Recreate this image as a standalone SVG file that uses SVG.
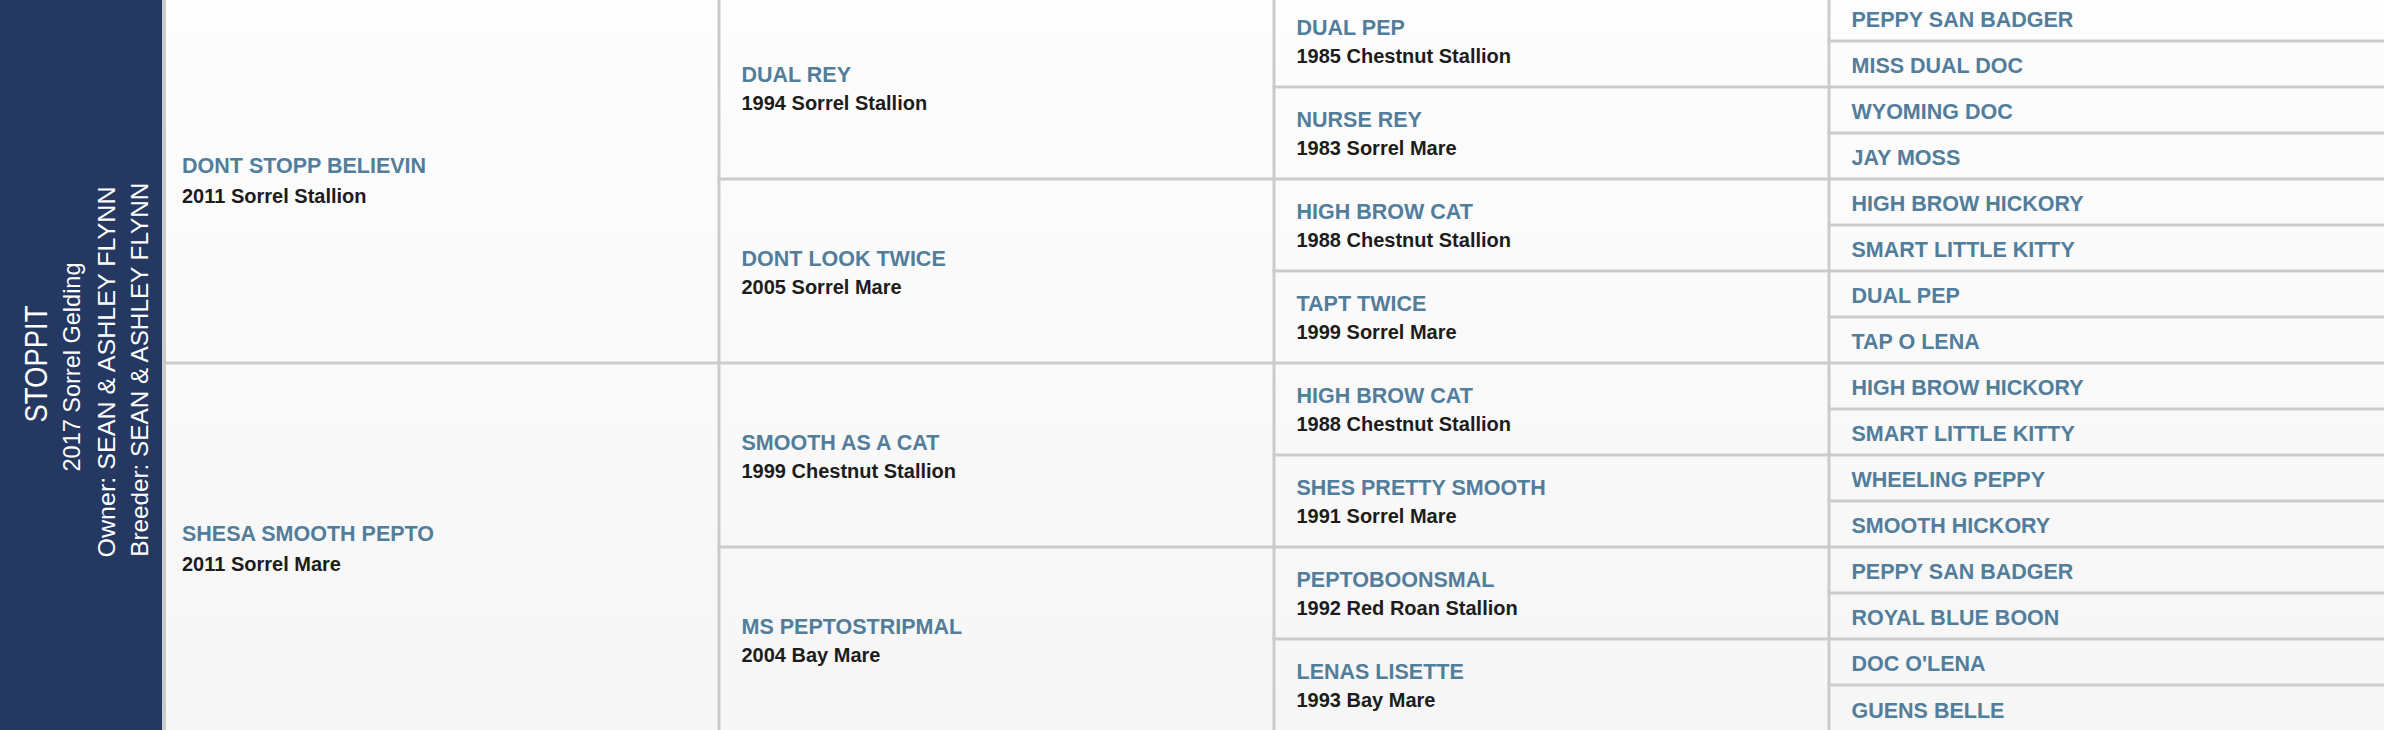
<svg xmlns="http://www.w3.org/2000/svg" width="2384" height="730" viewBox="0 0 2384 730">
<style>
.nm{font-family:"Liberation Sans",Arial,sans-serif;font-weight:700;font-size:21.5px;fill:#527d9b}
.dt{font-family:"Liberation Sans",Arial,sans-serif;font-weight:700;font-size:20px;fill:#1c1c1c}
.sb{font-family:"Liberation Sans",Arial,sans-serif;font-weight:400;fill:#ffffff;text-anchor:middle}
.ln{fill:#cbcbcb}
</style>
<defs>
<linearGradient id="bg" x1="0" y1="0" x2="0" y2="1">
<stop offset="0" stop-color="#fdfdfd"/>
<stop offset="1" stop-color="#f6f6f6"/>
</linearGradient>
</defs>
<rect x="0" y="0" width="2384" height="730" fill="url(#bg)"/>
<g id="subject">
<rect x="0" y="0" width="162" height="730" fill="#243862"/>
<text class="sb" font-size="31" textLength="117" lengthAdjust="spacingAndGlyphs" transform="translate(46.7,364) rotate(-90)">STOPPIT</text>
<text class="sb" font-size="24" textLength="209" lengthAdjust="spacingAndGlyphs" transform="translate(80,367) rotate(-90)">2017 Sorrel Gelding</text>
<text class="sb" font-size="24" textLength="371" lengthAdjust="spacingAndGlyphs" transform="translate(114.5,372) rotate(-90)">Owner: SEAN &amp; ASHLEY FLYNN</text>
<text class="sb" font-size="24" textLength="374" lengthAdjust="spacingAndGlyphs" transform="translate(147.5,369.7) rotate(-90)">Breeder: SEAN &amp; ASHLEY FLYNN</text>
</g>
<g id="grid">
<rect class="ln" x="162" y="0" width="4" height="730"/>
<rect class="ln" x="717.5" y="0" width="3" height="730"/>
<rect class="ln" x="1272.5" y="0" width="3" height="730"/>
<rect class="ln" x="1827.5" y="0" width="3" height="730"/>
<rect class="ln" x="1827.5" y="39.5" width="556.5" height="3"/>
<rect class="ln" x="1272.5" y="85.5" width="1111.5" height="3"/>
<rect class="ln" x="1827.5" y="131.5" width="556.5" height="3"/>
<rect class="ln" x="717.5" y="177.5" width="1666.5" height="3"/>
<rect class="ln" x="1827.5" y="223.5" width="556.5" height="3"/>
<rect class="ln" x="1272.5" y="269.5" width="1111.5" height="3"/>
<rect class="ln" x="1827.5" y="315.5" width="556.5" height="3"/>
<rect class="ln" x="166" y="361.5" width="2218" height="3"/>
<rect class="ln" x="1827.5" y="407.5" width="556.5" height="3"/>
<rect class="ln" x="1272.5" y="453.5" width="1111.5" height="3"/>
<rect class="ln" x="1827.5" y="499.5" width="556.5" height="3"/>
<rect class="ln" x="717.5" y="545.5" width="1666.5" height="3"/>
<rect class="ln" x="1827.5" y="591.5" width="556.5" height="3"/>
<rect class="ln" x="1272.5" y="637.5" width="1111.5" height="3"/>
<rect class="ln" x="1827.5" y="683.5" width="556.5" height="3"/>
</g>
<g id="sire"><text class="nm" x="182" y="173.3">DONT STOPP BELIEVIN</text><text class="dt" x="182" y="202.7">2011 Sorrel Stallion</text></g>
<g id="dam"><text class="nm" x="182" y="541.3">SHESA SMOOTH PEPTO</text><text class="dt" x="182" y="570.7">2011 Sorrel Mare</text></g>
<g id="ss"><text class="nm" x="741.5" y="81.7">DUAL REY</text><text class="dt" x="741.5" y="110">1994 Sorrel Stallion</text></g>
<g id="sd"><text class="nm" x="741.5" y="265.7">DONT LOOK TWICE</text><text class="dt" x="741.5" y="294">2005 Sorrel Mare</text></g>
<g id="ds"><text class="nm" x="741.5" y="449.7">SMOOTH AS A CAT</text><text class="dt" x="741.5" y="478">1999 Chestnut Stallion</text></g>
<g id="dd"><text class="nm" x="741.5" y="633.7">MS PEPTOSTRIPMAL</text><text class="dt" x="741.5" y="662">2004 Bay Mare</text></g>
<g id="sss"><text class="nm" x="1296.5" y="35.3">DUAL PEP</text><text class="dt" x="1296.5" y="63.3">1985 Chestnut Stallion</text></g>
<g id="ssd"><text class="nm" x="1296.5" y="127.3">NURSE REY</text><text class="dt" x="1296.5" y="155.3">1983 Sorrel Mare</text></g>
<g id="sds"><text class="nm" x="1296.5" y="219.3">HIGH BROW CAT</text><text class="dt" x="1296.5" y="247.3">1988 Chestnut Stallion</text></g>
<g id="sdd"><text class="nm" x="1296.5" y="311.3">TAPT TWICE</text><text class="dt" x="1296.5" y="339.3">1999 Sorrel Mare</text></g>
<g id="dss"><text class="nm" x="1296.5" y="403.3">HIGH BROW CAT</text><text class="dt" x="1296.5" y="431.3">1988 Chestnut Stallion</text></g>
<g id="dsd"><text class="nm" x="1296.5" y="495.3">SHES PRETTY SMOOTH</text><text class="dt" x="1296.5" y="523.3">1991 Sorrel Mare</text></g>
<g id="dds"><text class="nm" x="1296.5" y="587.3">PEPTOBOONSMAL</text><text class="dt" x="1296.5" y="615.3">1992 Red Roan Stallion</text></g>
<g id="ddd"><text class="nm" x="1296.5" y="679.3">LENAS LISETTE</text><text class="dt" x="1296.5" y="707.3">1993 Bay Mare</text></g>
<g id="g4-1"><text class="nm" x="1851.5" y="26.7">PEPPY SAN BADGER</text></g>
<g id="g4-2"><text class="nm" x="1851.5" y="72.7">MISS DUAL DOC</text></g>
<g id="g4-3"><text class="nm" x="1851.5" y="118.7">WYOMING DOC</text></g>
<g id="g4-4"><text class="nm" x="1851.5" y="164.7">JAY MOSS</text></g>
<g id="g4-5"><text class="nm" x="1851.5" y="210.7">HIGH BROW HICKORY</text></g>
<g id="g4-6"><text class="nm" x="1851.5" y="256.7">SMART LITTLE KITTY</text></g>
<g id="g4-7"><text class="nm" x="1851.5" y="302.7">DUAL PEP</text></g>
<g id="g4-8"><text class="nm" x="1851.5" y="348.7">TAP O LENA</text></g>
<g id="g4-9"><text class="nm" x="1851.5" y="394.7">HIGH BROW HICKORY</text></g>
<g id="g4-10"><text class="nm" x="1851.5" y="440.7">SMART LITTLE KITTY</text></g>
<g id="g4-11"><text class="nm" x="1851.5" y="486.7">WHEELING PEPPY</text></g>
<g id="g4-12"><text class="nm" x="1851.5" y="532.7">SMOOTH HICKORY</text></g>
<g id="g4-13"><text class="nm" x="1851.5" y="578.7">PEPPY SAN BADGER</text></g>
<g id="g4-14"><text class="nm" x="1851.5" y="624.7">ROYAL BLUE BOON</text></g>
<g id="g4-15"><text class="nm" x="1851.5" y="670.7">DOC O'LENA</text></g>
<g id="g4-16"><text class="nm" x="1851.5" y="717.5">GUENS BELLE</text></g>
</svg>
